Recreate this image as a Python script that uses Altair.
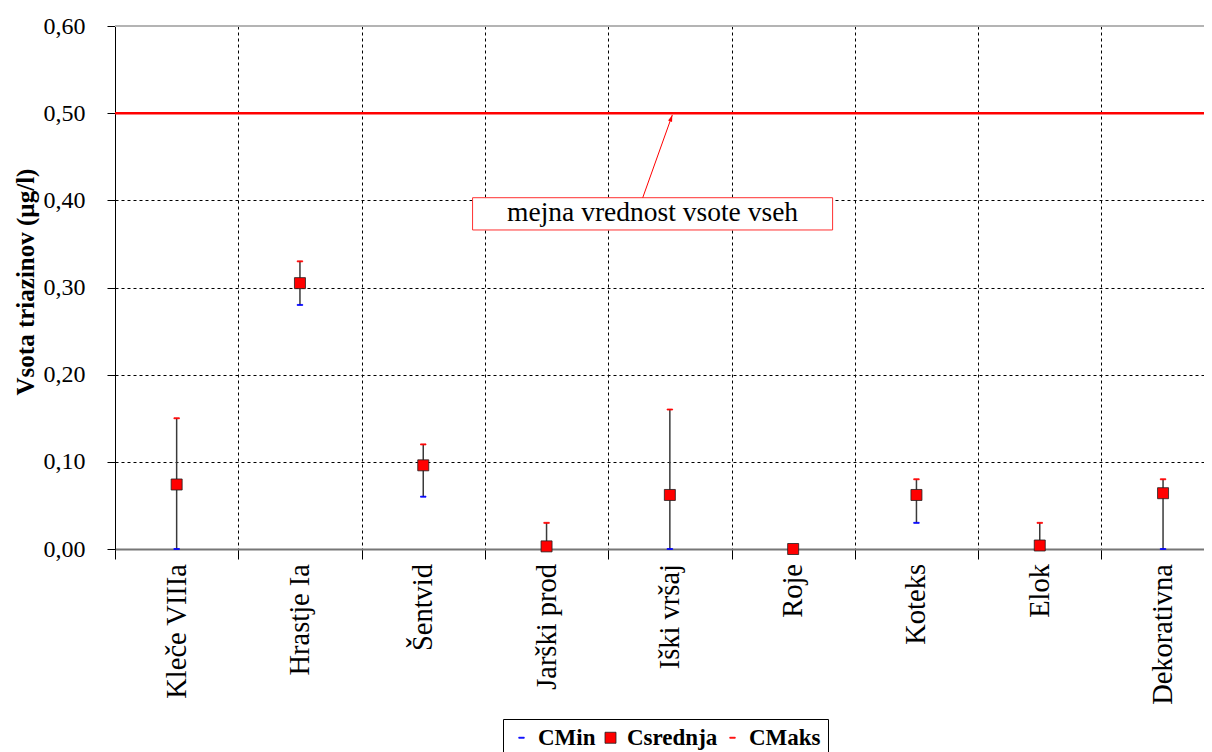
import altair as alt
import pandas as pd

# ---------------- data ----------------
stations = ["Kleče VIIIa", "Hrastje Ia", "Šentvid", "Jarški prod", "Iški vršaj",
            "Roje", "Koteks", "Elok", "Dekorativna"]
c_min = [0.00, 0.28, 0.06, 0.00, 0.00, 0.00, 0.03, 0.00, 0.00]
c_mean = [0.074, 0.305, 0.096, 0.003, 0.062, 0.000, 0.062, 0.004, 0.064]
c_max = [0.15, 0.33, 0.12, 0.03, 0.16, 0.00, 0.08, 0.03, 0.08]
series_names = ["CMin", "Csrednja", "CMaks"]
y_ticks = [0.0, 0.1, 0.2, 0.3, 0.4, 0.5, 0.6]
y_title = "Vsota triazinov (µg/l)"
limit_value = [0.50]
note_text = ["mejna vrednost vsote vseh"]
note_box_x = [2.40, 5.32]
note_box_y = [0.366, 0.403]
note_text_xy = [3.86, 0.385]
arrow_from = [3.78, 0.403]
arrow_to = [4.02, 0.498]

# ---------------- tables ----------------
idx = list(range(len(stations)))
wide = pd.DataFrame({"station": stations, "idx": idx, "cmin": c_min,
                     "cmean": c_mean, "cmax": c_max})
rows = []
for name, vals in (("CMin", c_min), ("CMaks", c_max), ("Csrednja", c_mean)):
    for i, v in zip(idx, vals):
        rows.append({"idx": i, "series": name, "value": v})
long = pd.DataFrame(rows)
boundaries = [i - 0.5 for i in idx]

FONT = "Liberation Serif, Times New Roman, serif"
BAND = 123.3
W, H = 1089, 523
x_scale = alt.Scale(domain=[-0.5, W / BAND - 0.5], nice=False, zero=False)
y_scale = alt.Scale(domain=[y_ticks[0], y_ticks[-1]], nice=False, zero=False)

x_axis = alt.Axis(values=boundaries, labels=False, tickSize=10, tickColor="black",
                  domainColor="#767676", domainWidth=2, grid=True, gridColor="black",
                  gridDash=[3, 3], gridWidth=1, title=None)
y_axis = alt.Axis(values=y_ticks,
                  labelExpr="replace(format(datum.value, '.2f'), '.', ',')",
                  labelFont=FONT, labelFontSize=24, labelColor="black", labelPadding=22,
                  tickSize=8, tickColor="black", domainColor="black", domainWidth=1,
                  grid=True, gridColor="black", gridDash=[3, 3], gridWidth=1,
                  title=y_title, titleFont=FONT, titleFontSize=25, titleFontWeight="bold",
                  titleColor="black", titleX=-90, titleY=H / 2 - 6, titleAngle=270,
                  titleAlign="center", titleBaseline="middle")


def X(field):
    return alt.X(field, scale=x_scale, axis=x_axis, title=None)


def Y(field):
    return alt.Y(field, scale=y_scale, axis=y_axis, title=y_title)


# error bars
bars = alt.Chart(wide).mark_rule(color="#3a3a3a", strokeWidth=1.5).encode(
    x=X("idx:Q"), y=Y("cmin:Q"), y2="cmax:Q")

# limit line
limit = alt.Chart(pd.DataFrame({"v": limit_value})).mark_rule(
    color="#ff0000", strokeWidth=2.5).encode(y=Y("v:Q"))

# top border of plot area
top = alt.Chart(pd.DataFrame({"v": [y_ticks[-1]]})).mark_rule(
    color="#b4b4b4", strokeWidth=2).encode(y=Y("v:Q"))

# annotation
box = alt.Chart(pd.DataFrame({"x1": [note_box_x[0]], "x2": [note_box_x[1]],
                              "y1": [note_box_y[0]], "y2": [note_box_y[1]]})).mark_rect(
    fill="white", stroke="#ff3030", strokeWidth=1).encode(
    x=X("x1:Q"), x2="x2:Q", y=Y("y1:Q"), y2="y2:Q")
note = alt.Chart(pd.DataFrame({"x": [note_text_xy[0]], "y": [note_text_xy[1]],
                               "t": note_text})).mark_text(
    font=FONT, fontSize=27.5, color="black", align="center", baseline="middle").encode(
    x=X("x:Q"), y=Y("y:Q"), text="t:N")
arrow = alt.Chart(pd.DataFrame({"x1": [arrow_from[0]], "y1": [arrow_from[1]],
                                "x2": [arrow_to[0]], "y2": [arrow_to[1]]})).mark_rule(
    color="#ff0000", strokeWidth=1).encode(
    x=X("x1:Q"), x2="x2:Q", y=Y("y1:Q"), y2="y2:Q")
head = alt.Chart(pd.DataFrame({"x": [arrow_to[0]], "y": [arrow_to[1]]})).mark_point(
    shape="M0,0L0.45,1.4L-0.45,1.4Z", filled=True, color="#ff0000", size=90,
    angle=20, opacity=1).encode(x=X("x:Q"), y=Y("y:Q"))

# markers
dash = "M-0.5,-0.09H0.5V0.09H-0.5Z"
legend = alt.Legend(title=None, orient="none", legendX=388, legendY=693,
                    direction="horizontal", strokeColor="black", fillColor="white",
                    padding=7, labelFont=FONT, labelFontWeight="bold", labelFontSize=23,
                    labelColor="black", symbolSize=121, symbolStrokeWidth=0.8,
                    labelOffset=5, columnPadding=3)
points = alt.Chart(long).mark_point(filled=True, size=121, strokeWidth=0.8,
                                    opacity=1).encode(
    x=X("idx:Q"), y=Y("value:Q"),
    fill=alt.Fill("series:N", scale=alt.Scale(domain=series_names,
                                              range=["#0000ff", "#ff0000", "#ff0000"]),
                  legend=legend),
    stroke=alt.Stroke("series:N", scale=alt.Scale(domain=series_names,
                                                  range=["#0000ff", "#202020", "#ff0000"]),
                      legend=legend),
    shape=alt.Shape("series:N", scale=alt.Scale(domain=series_names,
                                                range=[dash, "square", dash]),
                    legend=legend),
)

# category labels (rotated)
labels = alt.Chart(wide).mark_text(font=FONT, fontSize=28.5, color="black", angle=270,
                                   align="right", baseline="middle").encode(
    x=X("idx:Q"), y=alt.value(H + 15), text="station:N")

chart = alt.layer(bars, limit, top, box, arrow, head, note, points, labels).properties(
    width=W, height=H,
    padding={"left": 107, "top": 18, "right": 0, "bottom": 203},
    autosize=alt.AutoSizeParams(type="none"),
).configure_view(stroke=None)

chart.save("out.html", embed_options={"renderer": "svg", "actions": False})
